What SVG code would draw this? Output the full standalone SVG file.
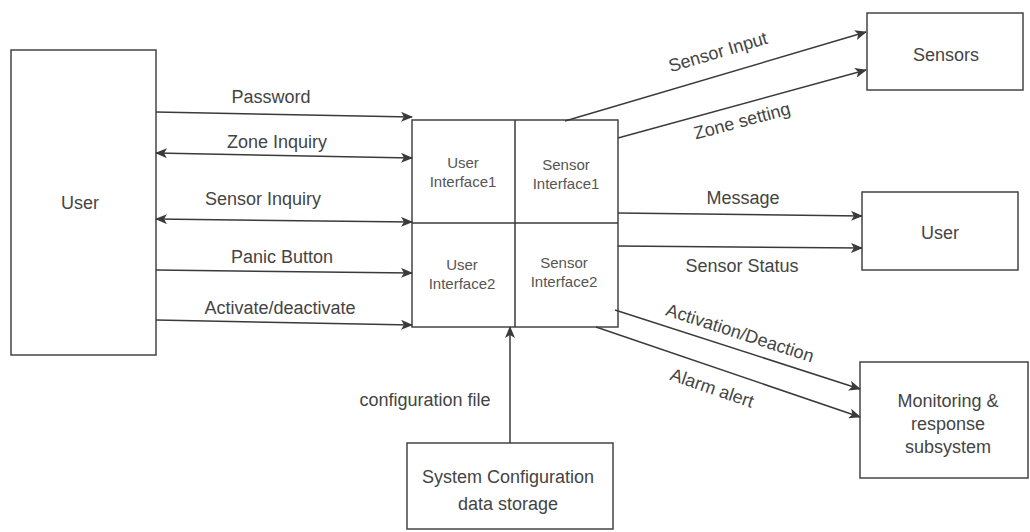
<svg xmlns="http://www.w3.org/2000/svg" width="1030" height="532" viewBox="0 0 1030 532">
<defs>
<marker id="ah" viewBox="0 0 12 10" refX="11" refY="5" markerWidth="12" markerHeight="10" markerUnits="userSpaceOnUse" orient="auto-start-reverse">
<path d="M0,0 L12,5 L0,10 L3,5 Z" fill="#3a3a3a"/>
</marker>
<style>
.box{fill:#fff;stroke:#444;stroke-width:1.5}
.ln{stroke:#3a3a3a;stroke-width:1.5;fill:none}
.t{font-family:"Liberation Sans",Arial,sans-serif;font-size:18px;fill:#444;text-anchor:middle}
.s{font-family:"Liberation Sans",Arial,sans-serif;font-size:15px;fill:#555;text-anchor:middle}
</style>
</defs>
<rect width="1030" height="532" fill="#fff"/>
<g id="user-left">
<rect class="box" x="11" y="50" width="145" height="305"/>
<text class="t" x="80" y="209">User</text>
</g>
<g id="interfaces">
<rect class="box" x="412" y="120" width="206" height="207"/>
<line class="ln" x1="515" y1="120" x2="515" y2="327"/>
<line class="ln" x1="412" y1="223" x2="618" y2="223"/>
<text class="s" x="463" y="168">User</text>
<text class="s" x="463" y="187">Interface1</text>
<text class="s" x="566" y="170">Sensor</text>
<text class="s" x="566" y="189">Interface1</text>
<text class="s" x="462" y="270">User</text>
<text class="s" x="462" y="289">Interface2</text>
<text class="s" x="564" y="268">Sensor</text>
<text class="s" x="564" y="287">Interface2</text>
</g>
<g id="sensors">
<rect class="box" x="867" y="13" width="156" height="77"/>
<text class="t" x="946" y="61">Sensors</text>
</g>
<g id="user-right">
<rect class="box" x="862" y="192" width="156" height="78"/>
<text class="t" x="940" y="239">User</text>
</g>
<g id="monitoring">
<rect class="box" x="860" y="362" width="168" height="116"/>
<text class="t" x="948" y="407">Monitoring &amp;</text>
<text class="t" x="948" y="430">response</text>
<text class="t" x="948" y="453">subsystem</text>
</g>
<g id="config-storage">
<rect class="box" x="407" y="443" width="206" height="86"/>
<text class="t" x="508" y="483">System Configuration</text>
<text class="t" x="508" y="510">data storage</text>
</g>
<g id="connectors">
<line class="ln" x1="156" y1="112" x2="412" y2="117" marker-end="url(#ah)"/>
<line class="ln" x1="156" y1="153" x2="412" y2="158" marker-start="url(#ah)" marker-end="url(#ah)"/>
<line class="ln" x1="156" y1="219" x2="412" y2="222" marker-start="url(#ah)" marker-end="url(#ah)"/>
<line class="ln" x1="156" y1="270" x2="412" y2="273" marker-end="url(#ah)"/>
<line class="ln" x1="156" y1="320" x2="412" y2="325" marker-end="url(#ah)"/>
<line class="ln" x1="565" y1="121" x2="866" y2="32" marker-end="url(#ah)"/>
<line class="ln" x1="618" y1="138" x2="866" y2="70" marker-end="url(#ah)"/>
<line class="ln" x1="618" y1="213" x2="862" y2="216" marker-end="url(#ah)"/>
<line class="ln" x1="618" y1="246" x2="862" y2="248" marker-end="url(#ah)"/>
<line class="ln" x1="615" y1="310" x2="860" y2="389" marker-end="url(#ah)"/>
<line class="ln" x1="596" y1="327" x2="860" y2="417" marker-end="url(#ah)"/>
<line class="ln" x1="510" y1="443" x2="510" y2="327" marker-end="url(#ah)"/>
<text class="t" x="271" y="103">Password</text>
<text class="t" x="277" y="148">Zone Inquiry</text>
<text class="t" x="263" y="205">Sensor Inquiry</text>
<text class="t" x="282" y="263">Panic Button</text>
<text class="t" x="280" y="314">Activate/deactivate</text>
<text class="t" x="718" y="58" transform="rotate(-16.5 718 52)">Sensor Input</text>
<text class="t" x="742" y="127" transform="rotate(-15 742 121)">Zone setting</text>
<text class="t" x="743" y="204">Message</text>
<text class="t" x="742" y="272">Sensor Status</text>
<text class="t" x="740" y="339" transform="rotate(18 740 333)">Activation/Deaction</text>
<text class="t" x="712" y="394" transform="rotate(19 712 388)">Alarm alert</text>
<text class="t" x="425" y="406">configuration file</text>
</g>
</svg>
